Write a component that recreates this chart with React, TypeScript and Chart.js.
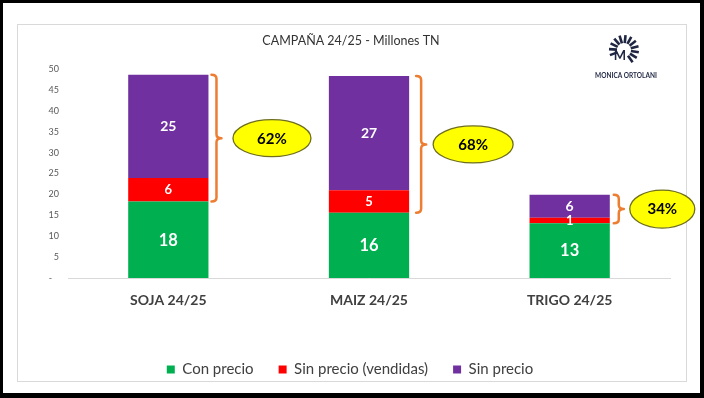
import React, { useEffect, useRef } from 'react';
import { Chart, registerables } from 'chart.js';

Chart.register(...registerables);

// ---- data ----
const categories = ['SOJA 24/25', 'MAIZ 24/25', 'TRIGO 24/25'];
const seriesLabels = ['Con precio', 'Sin precio (vendidas)', 'Sin precio'];
const conPrecio = [18.3, 15.6, 13.1];
const sinPrecioVendidas = [5.6, 5.4, 1.3];
const sinPrecio = [24.7, 27.3, 5.5];
const yMin = 0;
const yMax = 50;
const yStep = 5;
const chartTitle = 'CAMPAÑA 24/25 - Millones TN';
const logoName = 'MONICA ORTOLANI';

// ---- styles ----
const COLORS = ['#00B050', '#FF0000', '#7030A0'];
const LABEL_SIZES = [16.5, 13, 14];
const CALLOUTS = [
  { brace: 8, cx: 63.5, rx: 39, ry: 18.5 },
  { brace: 12, cx: 64, rx: 40, ry: 18.5 },
  { brace: 9, cx: 52.5, rx: 32.5, ry: 19 },
];
const FONT = 'Lato, "Open Sans", sans-serif';

const overlayPlugin = {
  id: 'overlay',
  afterLayout(chart: any) {
    const lg = chart.legend;
    if (lg) {
      lg.left += 15;
      lg.right += 15;
    }
  },
  afterDatasetsDraw(chart: any) {
    const ctx: CanvasRenderingContext2D = chart.ctx;
    const ys = chart.scales.y;
    ctx.save();
    ctx.textAlign = 'center';
    ctx.textBaseline = 'middle';
    chart.data.datasets.forEach((ds: any, di: number) => {
      const meta = chart.getDatasetMeta(di);
      meta.data.forEach((el: any, i: number) => {
        const v = ds.data[i];
        const p = el.getProps(['x', 'y', 'base'], true);
        ctx.font = `bold ${LABEL_SIZES[di]}px ${FONT}`;
        ctx.fillStyle = '#FFFFFF';
        ctx.fillText(String(Math.round(v)), p.x, (p.y + p.base) / 2 + 0.5);
      });
    });

    categories.forEach((_, i) => {
      const el = chart.getDatasetMeta(0).data[i];
      const { x, width } = el.getProps(['x', 'width'], true);
      const right = x + width / 2;
      const total = conPrecio[i] + sinPrecioVendidas[i] + sinPrecio[i];
      const yTop = ys.getPixelForValue(total);
      const yBot = ys.getPixelForValue(conPrecio[i]);
      const ym = (yTop + yBot) / 2;
      const c = CALLOUTS[i];
      const bx = right + c.brace;
      const h = 5;
      const r = 4;
      ctx.strokeStyle = '#ED7D31';
      ctx.lineWidth = 2.5;
      ctx.lineCap = 'round';
      ctx.lineJoin = 'round';
      ctx.beginPath();
      ctx.moveTo(bx - h, yTop);
      ctx.quadraticCurveTo(bx, yTop, bx, yTop + r);
      ctx.lineTo(bx, ym - r);
      ctx.quadraticCurveTo(bx, ym, bx + h, ym);
      ctx.quadraticCurveTo(bx, ym, bx, ym + r);
      ctx.lineTo(bx, yBot - r);
      ctx.quadraticCurveTo(bx, yBot, bx - h, yBot);
      ctx.stroke();

      const cx = right + c.cx;
      ctx.beginPath();
      ctx.ellipse(cx, ym, c.rx, c.ry, 0, 0, Math.PI * 2);
      ctx.fillStyle = '#FFFF00';
      ctx.fill();
      ctx.strokeStyle = '#6E6E1E';
      ctx.lineWidth = 1.3;
      ctx.stroke();
      const pct = Math.round(((sinPrecioVendidas[i] + sinPrecio[i]) / total) * 100);
      ctx.fillStyle = '#000000';
      ctx.font = `bold 15px ${FONT}`;
      ctx.fillText(pct + '%', cx, ym + 0.5);
    });
    ctx.restore();
  },
  afterDraw(chart: any) {
    const ctx: CanvasRenderingContext2D = chart.ctx;
    ctx.save();
    // title
    ctx.textAlign = 'center';
    ctx.textBaseline = 'middle';
    ctx.fillStyle = '#333333';
    ctx.font = `12.5px ${FONT}`;
    ctx.fillText(chartTitle, 351, 41);

    // logo
    const lx = 624;
    const ly = 50;
    ctx.strokeStyle = '#1F2642';
    ctx.fillStyle = '#1F2642';
    ctx.lineWidth = 2.6;
    ctx.lineCap = 'butt';
    const n = 12;
    for (let k = 0; k < n; k++) {
      const a = ((-200 + (k * 255) / (n - 1)) * Math.PI) / 180;
      ctx.beginPath();
      ctx.moveTo(lx + Math.cos(a) * 7, ly + Math.sin(a) * 7);
      ctx.lineTo(lx + Math.cos(a) * 15, ly + Math.sin(a) * 15);
      ctx.stroke();
    }
    ctx.font = `bold 13px ${FONT}`;
    ctx.fillText('M', lx - 4, ly + 6);
    ctx.font = `bold 6.5px ${FONT}`;
    ctx.fillText(logoName, 626, 76);
    ctx.restore();
  },
};

export default function App() {
  const ref = useRef<HTMLCanvasElement>(null);
  useEffect(() => {
    const seriesData = [conPrecio, sinPrecioVendidas, sinPrecio];
    const chart = new Chart(ref.current as HTMLCanvasElement, {
      type: 'bar',
      data: {
        labels: categories,
        datasets: seriesData.map((d, i) => ({
          label: seriesLabels[i],
          data: d,
          backgroundColor: COLORS[i],
          borderWidth: 0,
          barPercentage: 0.4,
          categoryPercentage: 1,
        })),
      },
      options: {
        responsive: false,
        animation: false,
        devicePixelRatio: 1,
        layout: { padding: { top: 69, right: 34, bottom: 11, left: 0 } },
        plugins: {
          legend: {
            position: 'bottom',
            labels: {
              boxWidth: 8,
              boxHeight: 8,
              padding: 25,
              color: '#404040',
              font: { family: FONT, size: 15 },
            },
          },
          title: { display: false },
          tooltip: { enabled: false },
        },
        scales: {
          x: {
            stacked: true,
            grid: { display: false, drawTicks: false },
            border: { display: true, color: '#D9D9D9' },
            ticks: {
              padding: 13.6,
              color: '#404040',
              font: { family: FONT, size: 14, weight: 'bold' },
            },
            afterFit: (s: any) => {
              s.height = 59;
            },
          },
          y: {
            stacked: true,
            min: yMin,
            max: yMax,
            ticks: {
              stepSize: yStep,
              padding: 9,
              color: '#595959',
              font: { family: FONT, size: 9 },
              callback: (v: any) => (Number(v) === 0 ? '-   ' : String(v)),
            },
            grid: { display: false, drawTicks: false },
            border: { display: false },
            afterFit: (s: any) => {
              s.width = 68;
            },
          },
        },
      } as any,
      plugins: [overlayPlugin],
    });
    return () => chart.destroy();
  }, []);

  return (
    <div
      style={{
        position: 'fixed',
        left: 0,
        top: 0,
        width: 704,
        height: 398,
        background: '#000',
        overflow: 'hidden',
      }}
    >
      <div style={{ position: 'absolute', left: 3, top: 3, width: 697, height: 390, background: '#fff' }} />
      <div
        style={{
          position: 'absolute',
          left: 17,
          top: 24,
          width: 670,
          height: 358,
          border: '1px solid #D9D9D9',
          boxSizing: 'border-box',
        }}
      />
      <canvas
        ref={ref}
        width={704}
        height={398}
        style={{ position: 'absolute', left: 0, top: 0, width: 704, height: 398 }}
      />
    </div>
  );
}
